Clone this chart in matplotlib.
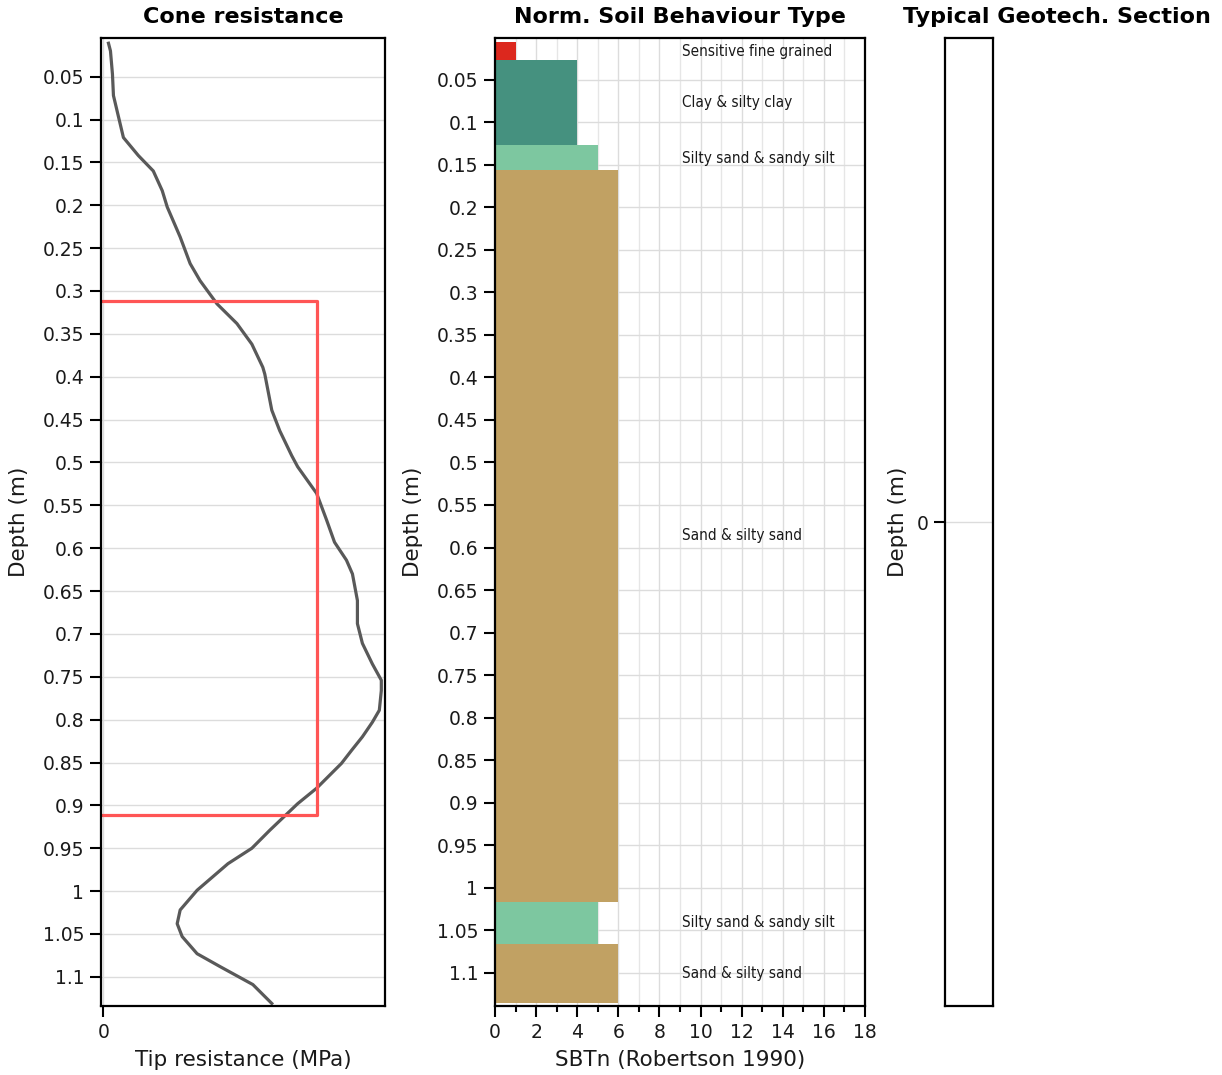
import numpy as np
import matplotlib
matplotlib.use("Agg")
import matplotlib.pyplot as plt

# cone tip resistance profile
depth = [0.011, 0.020, 0.047, 0.072, 0.121, 0.142, 0.160, 0.183, 0.202, 0.237,
         0.268, 0.288, 0.315, 0.338, 0.362, 0.389, 0.397, 0.439, 0.463, 0.492,
         0.505, 0.536, 0.567, 0.593, 0.614, 0.630, 0.661, 0.688, 0.711, 0.735,
         0.754, 0.766, 0.789, 0.803, 0.820, 0.836, 0.851, 0.880, 0.898, 0.929,
         0.950, 0.968, 0.999, 1.022, 1.038, 1.053, 1.073, 1.088, 1.109, 1.131]
qc = [0.05, 0.07, 0.09, 0.10, 0.20, 0.35, 0.50, 0.59, 0.64, 0.77,
      0.87, 0.97, 1.14, 1.34, 1.49, 1.60, 1.62, 1.69, 1.77, 1.89,
      1.95, 2.14, 2.24, 2.32, 2.44, 2.50, 2.55, 2.55, 2.60, 2.70,
      2.79, 2.79, 2.77, 2.70, 2.60, 2.49, 2.39, 2.14, 1.95, 1.67,
      1.49, 1.25, 0.94, 0.77, 0.74, 0.79, 0.94, 1.17, 1.50, 1.69]

# highlighted zone
box_top = 0.312
box_bottom = 0.911
box_qc = 2.14

# SBTn layers
layer_top = [0.0055, 0.0265, 0.127, 0.156, 1.0165, 1.066]
layer_bottom = [0.0276, 0.127, 0.1576, 1.0165, 1.066, 1.1357]
layer_sbt = [1, 4, 5, 6, 5, 6]
layer_name = ["Sensitive fine grained", "Clay & silty clay", "Silty sand & sandy silt",
              "Sand & silty sand", "Silty sand & sandy silt", "Sand & silty sand"]
sbt_colors = {1: "#DC281E", 4: "#45917F", 5: "#7DC7A0", 6: "#C1A163"}

W, H = 1222, 1075
fig = plt.figure(figsize=(W / 100, H / 100), dpi=100)
plt.rcParams['font.family'] = ['DejaVu Sans']


def px_axes(x0, x1, y0, y1):
    return fig.add_axes([x0 / W, 1 - y1 / H, (x1 - x0) / W, (y1 - y0) / H])


def style(ax):
    for s in ax.spines.values():
        s.set_linewidth(1.6)
        s.set_color("black")
    ax.tick_params(direction="out", length=8, width=1.5, labelsize=13.5, pad=4,
                   colors="black", labelcolor="#1a1a1a")
    ax.grid(True, color="#dcdcdc", linewidth=1.0)
    ax.set_axisbelow(True)


yticks = np.round(np.arange(0.05, 1.101, 0.05), 2)
ylabels = [f"{t:g}" for t in yticks]
title_kw = dict(fontsize=16, fontweight="bold", pad=11)
lab_kw = dict(fontsize=15.5, color="#1a1a1a")

# panel 1: cone resistance
ax1 = px_axes(101, 385, 38, 1006)
style(ax1)
ax1.plot(qc, depth, color="#595959", lw=2.3)
ax1.plot([0, box_qc, box_qc, 0], [box_top, box_top, box_bottom, box_bottom],
         color="#FF5555", lw=2.3)
ax1.set_xlim(-0.025, 2.827)
ax1.set_ylim(1.134, 0.0049)
ax1.set_xticks([0])
ax1.set_yticks(yticks)
ax1.set_yticklabels(ylabels)
ax1.set_title("Cone resistance", **title_kw)
ax1.set_xlabel("Tip resistance (MPa)", labelpad=6, **lab_kw)
ax1.set_ylabel("Depth (m)", labelpad=10, **lab_kw)

# panel 2: SBTn
ax2 = px_axes(495, 865, 38, 1006)
style(ax2)
for t, b, v in zip(layer_top, layer_bottom, layer_sbt):
    ax2.barh((t + b) / 2, v, height=b - t, left=0, color=sbt_colors[v],
             linewidth=0, zorder=2)
for t, b, n in zip(layer_top, layer_bottom, layer_name):
    ax2.text(9.1, (t + b) / 2, n, fontsize=11, family="DejaVu Sans",
             stretch="condensed", va="center", ha="left", color="#1a1a1a", zorder=3)
ax2.set_xlim(0, 18)
ax2.set_ylim(1.139, 0.001)
ax2.set_xticks(np.arange(0, 19, 2))
ax2.set_xticks(np.arange(1, 18, 2), minor=True)
ax2.tick_params(which="minor", direction="out", length=4, width=1.5)
ax2.grid(True, which="minor", axis="x", color="#e6e6e6", linewidth=1.0)
ax2.set_yticks(yticks)
ax2.set_yticklabels(ylabels)
ax2.set_title("Norm. Soil Behaviour Type", **title_kw)
ax2.set_xlabel("SBTn (Robertson 1990)", labelpad=6, **lab_kw)
ax2.set_ylabel("Depth (m)", labelpad=10, **lab_kw)

# panel 3: geotech section (empty)
ax3 = px_axes(945, 993, 38, 1006)
style(ax3)
ax3.set_xlim(0, 1)
ax3.set_ylim(1, -1)
ax3.set_xticks([])
ax3.set_yticks([0])
ax3.set_ylabel("Depth (m)", labelpad=6, **lab_kw)
fig.text(1057 / W, 1 - 17 / H, "Typical Geotech. Section", fontsize=16,
         fontweight="bold", ha="center", va="center")

fig.savefig("out.png", dpi=100)
